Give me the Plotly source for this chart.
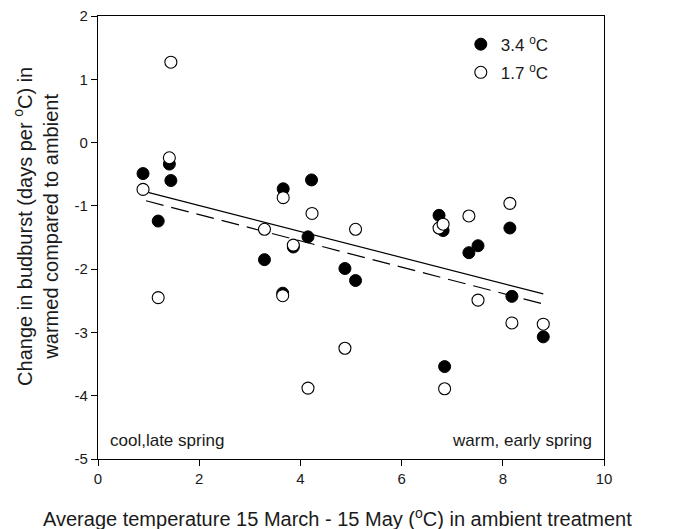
import plotly.graph_objects as go

# 3.4 °C warming (filled)
x_high = [0.89, 1.41, 1.44, 1.19, 3.29, 3.66, 3.65, 3.86, 4.15, 4.22,
          4.88, 5.09, 6.74, 6.82, 6.85, 7.33, 7.51, 8.14, 8.18, 8.80]
y_high = [-0.49, -0.34, -0.60, -1.24, -1.85, -0.73, -2.38, -1.65, -1.49, -0.59,
          -1.99, -2.18, -1.15, -1.39, -3.54, -1.74, -1.63, -1.35, -2.43, -3.07]

# 1.7 °C warming (open)
x_low = [0.89, 1.41, 1.44, 1.19, 3.29, 3.66, 3.65, 3.86, 4.15, 4.23,
         4.88, 5.09, 6.74, 6.82, 6.85, 7.33, 7.51, 8.14, 8.18, 8.80]
y_low = [-0.74, -0.24, 1.27, -2.45, -1.37, -0.87, -2.42, -1.62, -3.88, -1.12,
         -3.25, -1.37, -1.35, -1.29, -3.89, -1.16, -2.49, -0.96, -2.85, -2.87]

# regression lines (end points)
fit_x = [0.95, 8.8]
fit_solid_y = [-0.78, -2.39]
fit_dashed_y = [-0.92, -2.55]

x_ticks = [0, 2, 4, 6, 8, 10]
y_ticks = [-5, -4, -3, -2, -1, 0, 1, 2]
y_ticktext = ["-5", "-4", "-3", "-2", "-1", "0", "1", "2"]

FONT = "Liberation Sans, Arial, sans-serif"
TXT = "#1a1a1a"

fig = go.Figure()

fig.add_trace(go.Scatter(x=fit_x, y=fit_solid_y, mode="lines",
                         line=dict(color="black", width=1.2),
                         showlegend=False, hoverinfo="skip"))
fig.add_trace(go.Scatter(x=fit_x, y=fit_dashed_y, mode="lines",
                         line=dict(color="black", width=1.2, dash="18px,8px"),
                         showlegend=False, hoverinfo="skip"))

fig.add_trace(go.Scatter(x=x_high, y=y_high, mode="markers",
                         name="3.4 <sup>o</sup>C", legendgroup="a",
                         marker=dict(symbol="circle", size=12, color="black",
                                     line=dict(color="black", width=1))))
fig.add_trace(go.Scatter(x=x_low, y=y_low, mode="markers",
                         name="1.7 <sup>o</sup>C", legendgroup="b",
                         marker=dict(symbol="circle", size=12, color="white",
                                     line=dict(color="black", width=1.1))))

fig.add_annotation(x=0.2, y=-4.71, xref="x", yref="y", text="cool,late spring",
                   showarrow=False, xanchor="left", yanchor="middle",
                   font=dict(family=FONT, size=17, color=TXT))
fig.add_annotation(x=9.8, y=-4.71, xref="x", yref="y", text="warm, early spring",
                   showarrow=False, xanchor="right", yanchor="middle",
                   font=dict(family=FONT, size=17, color=TXT))

# axis titles
fig.add_annotation(x=0.474, y=-0.133, xref="paper", yref="paper",
                   text="Average temperature 15 March - 15 May (<sup>o</sup>C) in ambient treatment",
                   showarrow=False, xanchor="center", yanchor="middle",
                   font=dict(family=FONT, size=20, color=TXT))
fig.add_annotation(x=-0.1225, y=0.524, xref="paper", yref="paper", textangle=-90,
                   text="Change in budburst (days per <sup>o</sup>C) in<br>warmed compared to ambient",
                   showarrow=False, xanchor="center", yanchor="middle",
                   font=dict(family=FONT, size=20, color=TXT))

axis_common = dict(showline=True, linecolor="black", linewidth=1.2, mirror=True,
                   ticks="outside", ticklen=6, tickcolor="black", tickwidth=1,
                   showgrid=False, zeroline=False, automargin=False,
                   tickfont=dict(family=FONT, size=15, color=TXT))

fig.update_xaxes(range=[0, 10], tickvals=x_ticks, **axis_common)
fig.update_yaxes(range=[-5, 2], tickvals=y_ticks, ticktext=y_ticktext, **axis_common)

fig.update_layout(
    width=676, height=529,
    margin=dict(l=98, r=72, t=16, b=70),
    plot_bgcolor="white", paper_bgcolor="white",
    font=dict(family=FONT, color=TXT),
    legend=dict(x=0.717, y=0.976, xanchor="left", yanchor="top",
                font=dict(family=FONT, size=17, color=TXT),
                bgcolor="rgba(0,0,0,0)", tracegroupgap=3, itemwidth=30),
)

fig.write_html("out.html", config={"displayModeBar": False},
               post_script="document.body.style.margin='0';")
